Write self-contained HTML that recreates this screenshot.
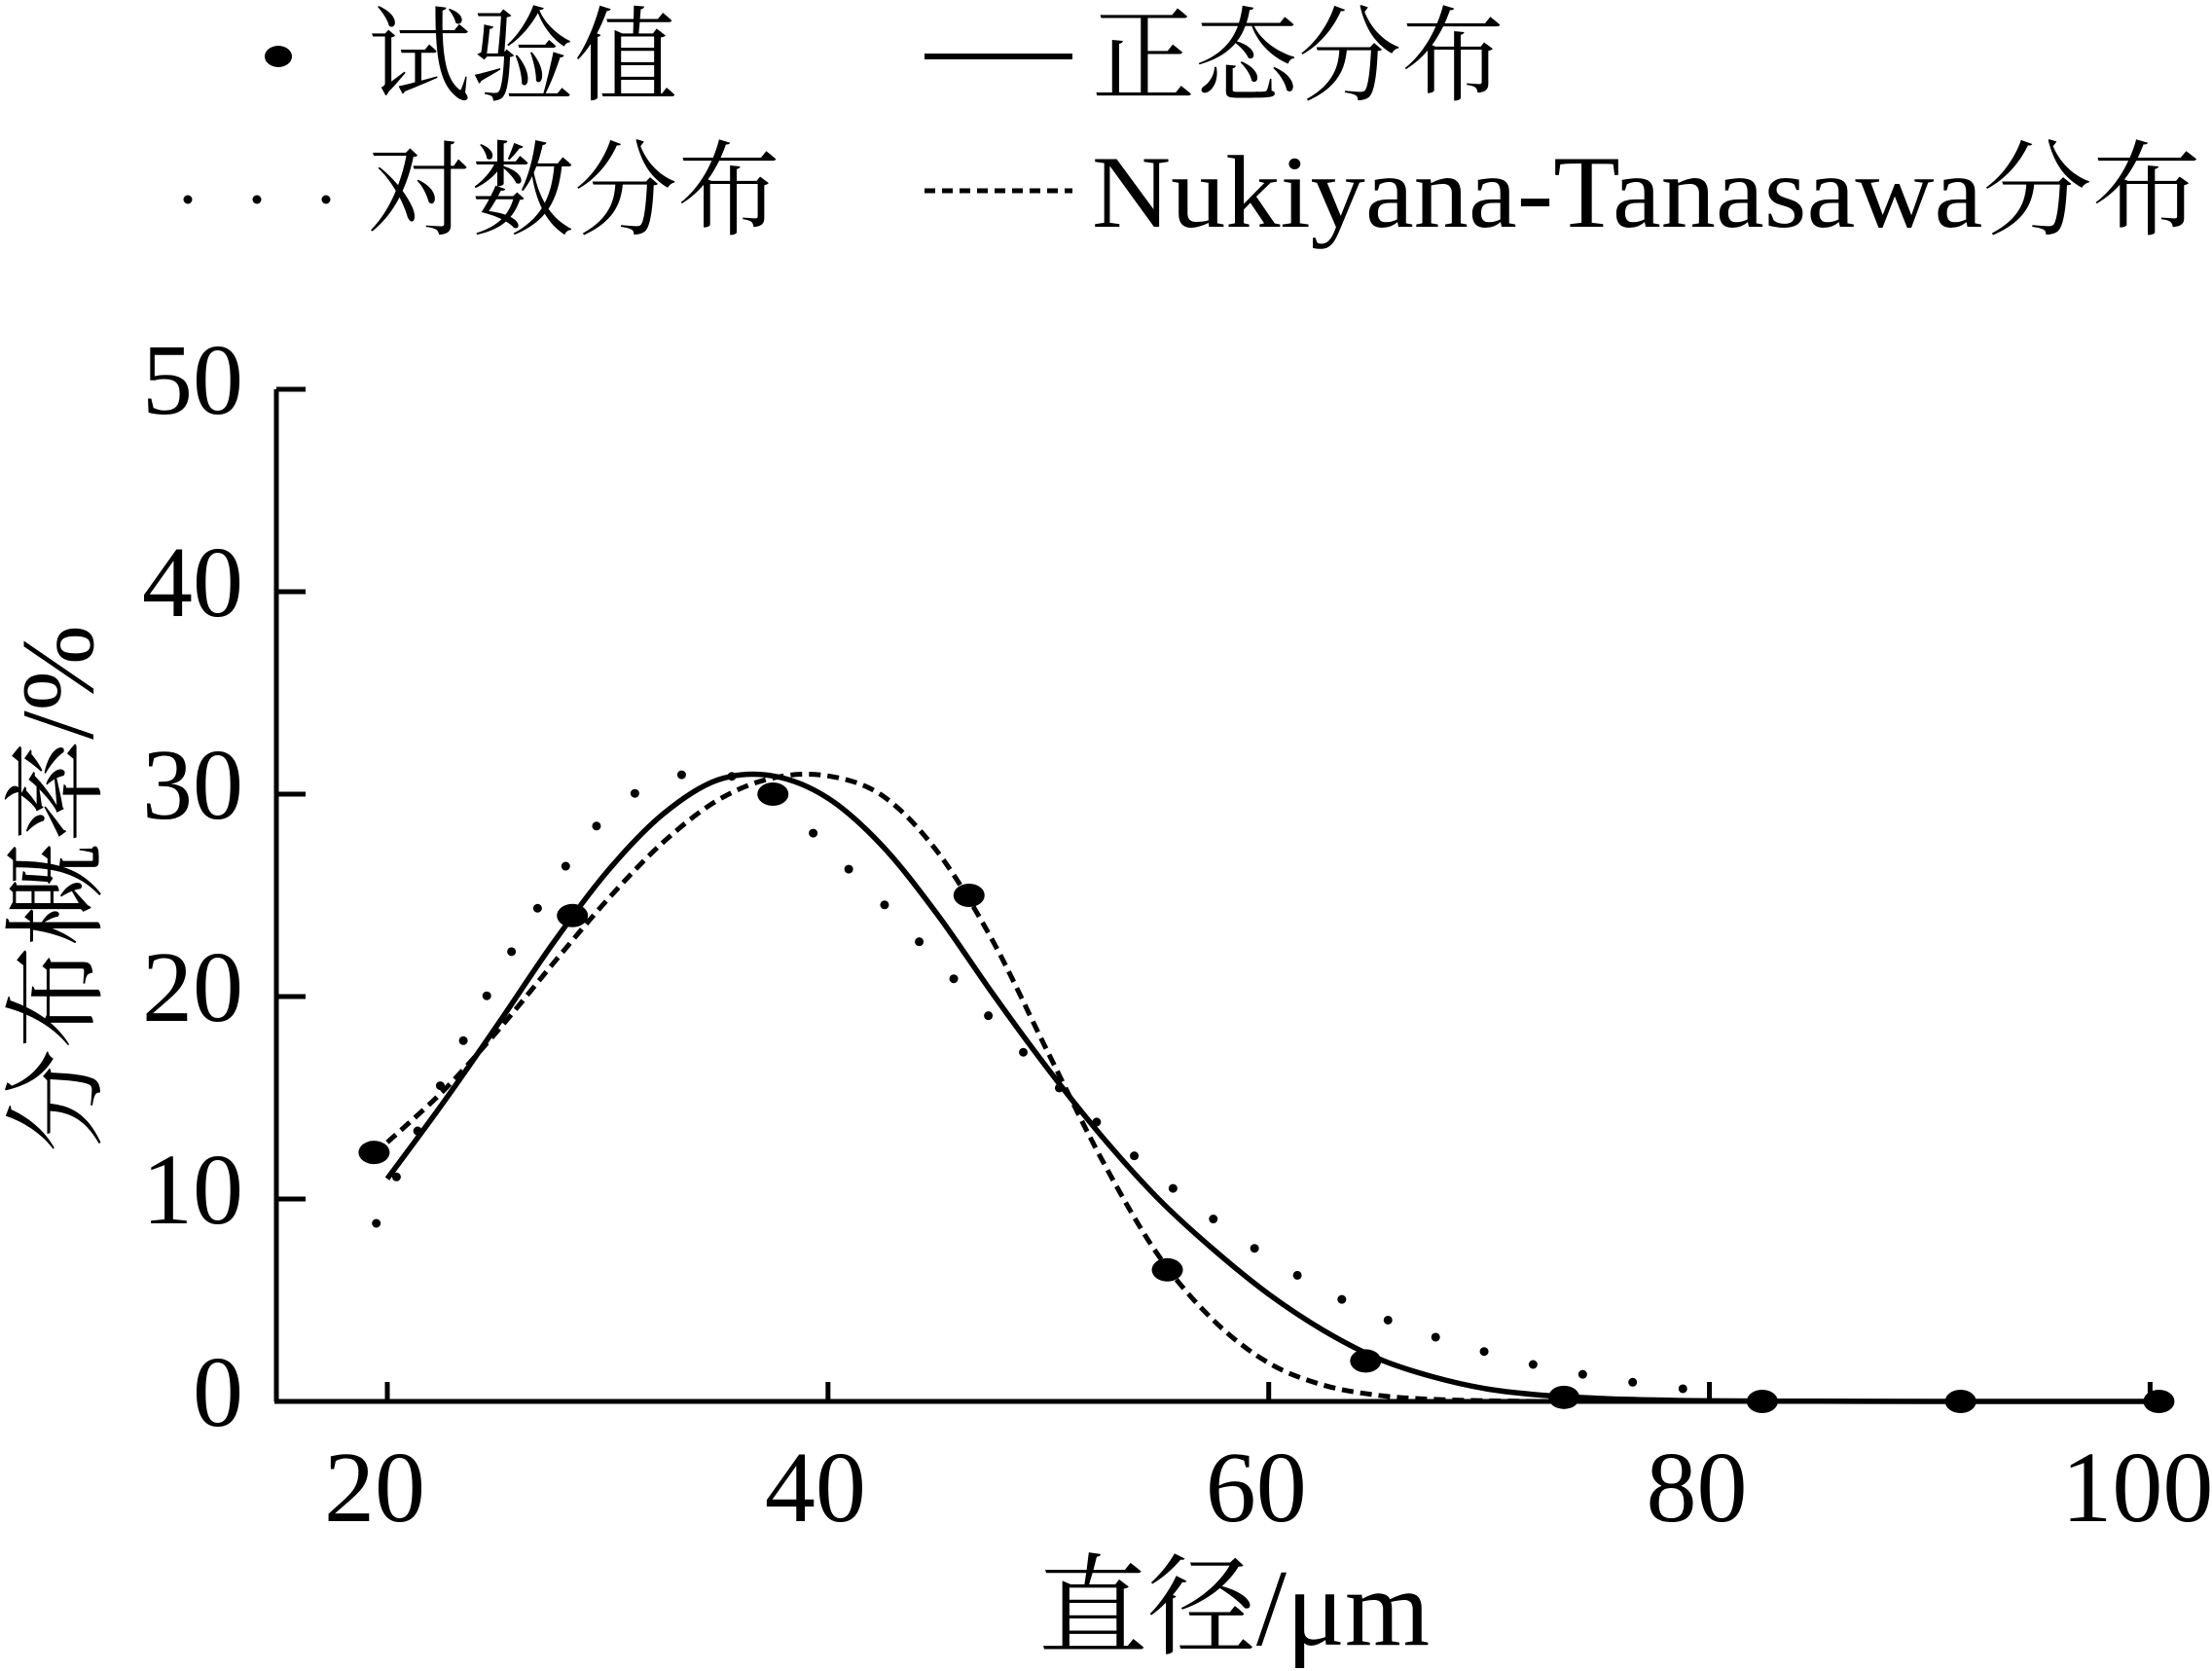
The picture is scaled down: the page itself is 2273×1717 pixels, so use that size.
<!DOCTYPE html>
<html><head><meta charset="utf-8">
<style>
html,body{margin:0;padding:0;background:#fff;}
svg{display:block;}
text{font-family:"Liberation Serif","Noto Serif CJK SC","Noto Sans CJK SC",serif;fill:#000;}
</style></head>
<body>
<svg id="chart" width="2273" height="1717" viewBox="0 0 2273 1717" xmlns="http://www.w3.org/2000/svg">
<g id="legend">
  <g>
    <ellipse cx="286" cy="58" rx="14" ry="11" fill="#000"/>
    <text x="378" y="95" font-size="106">试验值</text>
  </g>
  <g>
    <line x1="950" y1="58" x2="1102" y2="58" stroke="#000" stroke-width="6"/>
    <text x="1122" y="95" font-size="106">正态分布</text>
  </g>
  <g>
    <circle cx="193" cy="205" r="4.5" fill="#000"/>
    <circle cx="264" cy="205" r="4.5" fill="#000"/>
    <circle cx="335" cy="205" r="4.5" fill="#000"/>
    <text x="378" y="233" font-size="106">对数分布</text>
  </g>
  <g>
    <line x1="950" y1="196" x2="1102" y2="196" stroke="#000" stroke-width="5" stroke-dasharray="11,7"/>
    <text x="1122" y="233" font-size="106" textLength="1140" lengthAdjust="spacingAndGlyphs">Nukiyana-Tanasawa分布</text>
  </g>
</g>
<g id="axes"></g>
<g id="series"></g>
<text x="1268" y="1690" font-size="112" text-anchor="middle">直径/μm</text>
<text x="0" y="0" font-size="106" text-anchor="middle" transform="translate(95,913) rotate(-90)">分布概率/%</text>
</svg>
<script>
const xTicks = [20, 40, 60, 80, 100];
const yTicks = [0, 10, 20, 30, 40, 50];
const expX = [19.4, 28.4, 37.5, 46.4, 55.4, 64.4, 73.4, 82.4, 91.4, 100.4];
const expY = [12.3, 24.0, 30.0, 25.0, 6.5, 2.0, 0.2, 0, 0, 0];
const normX = [20, 22.5, 25, 27.5, 30, 32.5, 35, 37.5, 40, 42.5, 45, 47.5, 50, 52.5, 55, 57.5, 60, 62.5, 65, 67.5, 70, 72.5, 75, 77.5, 80, 85, 90, 95, 100];
const normY = [11.0, 14.7, 18.6, 22.6, 26.2, 29.0, 30.7, 30.9, 29.8, 27.4, 24.0, 20.1, 16.4, 13.0, 10.0, 7.5, 5.3, 3.5, 2.1, 1.2, 0.6, 0.3, 0.15, 0.07, 0.03, 0.01, 0, 0, 0];
const ntX = [20, 22.5, 25, 27.5, 30, 32.5, 35, 37.5, 40, 42.5, 45, 47.5, 50, 52.5, 55, 57.5, 60, 62.5, 65, 67.5, 70, 72.5];
const ntY = [12.8, 15.3, 18.3, 21.6, 24.8, 27.6, 29.7, 30.8, 30.9, 29.9, 27.1, 22.7, 17.2, 11.8, 7.2, 4.0, 1.9, 0.8, 0.3, 0.1, 0.03, 0];
const logX = [19.5, 21, 22.5, 25, 27.5, 30, 32.5, 35, 37.5, 40, 42.5, 45, 47.5, 50, 52.5, 55, 57.5, 60, 62.5, 65, 67.5, 70, 72.5, 75, 77.5, 79];
const logY = [8.8, 12.5, 15.8, 21.0, 25.5, 29.0, 30.7, 31.0, 30.0, 27.3, 24.6, 21.7, 18.8, 16.0, 13.5, 11.1, 9.0, 7.1, 5.5, 4.2, 3.2, 2.4, 1.7, 1.2, 0.8, 0.6];

const NS = 'http://www.w3.org/2000/svg';
function X(v){ return 398 + (v - 20) * (2209.4 - 398) / 80; }
function Y(v){ return 1440 - v * 20.8; }
function mk(tag, attrs, parent){ const e = document.createElementNS(NS, tag); for (const k in attrs) e.setAttribute(k, attrs[k]); parent.appendChild(e); return e; }

const axes = document.getElementById('axes');
const yAxis = mk('line', {x1:284, y1:Y(50), x2:284, y2:1440, stroke:'#000', 'stroke-width':5}, axes);


const xAxis = mk('line', {x1:282, y1:1440, x2:2218, y2:1440, stroke:'#000', 'stroke-width':5}, axes);


yTicks.forEach(t => {
  const tk = mk('line', {x1:284, y1:Y(t), x2:314, y2:Y(t), stroke:'#000', 'stroke-width':5}, axes);
  
  
  const lb = mk('text', {x:250, y:Y(t) + 25, 'font-size':104, 'text-anchor':'end'}, axes);
  lb.textContent = t;
  
  
});
xTicks.forEach(t => {
  const tk = mk('line', {x1:X(t), y1:1440, x2:X(t), y2:1420, stroke:'#000', 'stroke-width':5}, axes);
  
  
  const lb = mk('text', {x:X(t) - 13, y:1563, 'font-size':104, 'text-anchor':'middle'}, axes);
  lb.textContent = t;
  
  
});

const series = document.getElementById('series');
function pathD(xs, ys){
  const p = xs.map((x,i)=>[X(x), Y(ys[i])]);
  let d = 'M' + p[0][0].toFixed(1) + ',' + p[0][1].toFixed(1);
  for (let i = 0; i < p.length - 1; i++) {
    const p0 = p[Math.max(0,i-1)], p1 = p[i], p2 = p[i+1], p3 = p[Math.min(p.length-1,i+2)];
    const c1 = [p1[0] + (p2[0]-p0[0])/6, p1[1] + (p2[1]-p0[1])/6];
    const c2 = [p2[0] - (p3[0]-p1[0])/6, p2[1] - (p3[1]-p1[1])/6];
    d += ' C' + c1[0].toFixed(1) + ',' + c1[1].toFixed(1) + ' ' + c2[0].toFixed(1) + ',' + c2[1].toFixed(1) + ' ' + p2[0].toFixed(1) + ',' + p2[1].toFixed(1);
  }
  return d;
}
const norm = mk('path', {d:pathD(normX, normY), fill:'none', stroke:'#000', 'stroke-width':5.5, 'stroke-linejoin':'round'}, series);


const nt = mk('path', {d:pathD(ntX, ntY), fill:'none', stroke:'#000', 'stroke-width':5, 'stroke-dasharray':'12,7'}, series);


const logPath = mk('path', {d:pathD(logX, logY), fill:'none', stroke:'none'}, series);


const L = logPath.getTotalLength();
for (let s = 0; s <= L; s += 52) {
  const p = logPath.getPointAtLength(s);
  const c = mk('circle', {cx:p.x, cy:p.y, r:4.5, fill:'#000'}, series);
  
  
}
expX.forEach((x,i) => {
  const e = mk('ellipse', {cx:X(x), cy:Y(expY[i]), rx:16, ry:12, fill:'#000'}, series);
  
  
});
</script>
</body></html>
